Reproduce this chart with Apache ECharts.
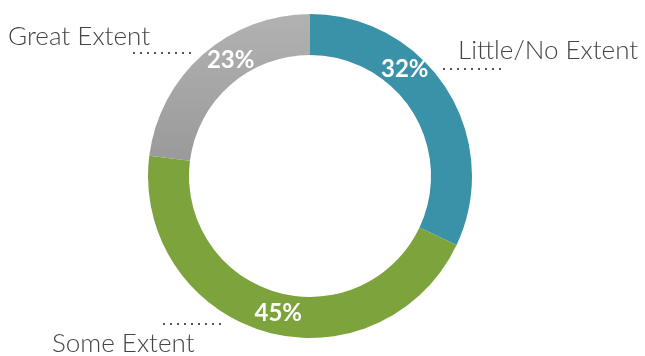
<!DOCTYPE html>
<html>
<head>
<meta charset="utf-8">
<style>
  html, body { margin: 0; padding: 0; background: #ffffff; }
  #chart { width: 645px; height: 356px; }
</style>
<script src="https://cdn.jsdelivr.net/npm/echarts@6/dist/echarts.min.js"></script>
</head>
<body>
<div id="chart"></div>
<script>
// Survey responses: extent of agreement (share of respondents, %)
const categories = ['Little/No Extent', 'Some Extent', 'Great Extent'];
const shares = [32, 45, 23];

const sliceColors = [
  '#3a92a9',
  '#7da33c',
  { type: 'linear', x: 0, y: 0, x2: 0, y2: 1,
    colorStops: [{ offset: 0, color: '#b2b2b2' }, { offset: 1, color: '#9a9a9a' }] }
];

const CX = 310, CY = 176;

// Percentage labels: polar placement (deg clockwise from 12 o'clock, radius px)
const pctSpots = [
  { angle: 41.5, r: 143 },
  { angle: 193, r: 141 },
  { angle: 325.5, r: 140 }
];

// Category name labels with their short dotted leader
const nameSpots = [
  { x: 458, y: 51, align: 'left', line: [[443, 69], [501, 69]] },
  { x: 52, y: 344, align: 'left', line: [[163, 324], [223, 324]] },
  { x: 8, y: 37, align: 'left', line: [[133, 53], [192, 53]] }
];

const data = categories.map((name, i) => ({
  name,
  value: shares[i],
  itemStyle: { color: sliceColors[i] }
}));

const chart = echarts.init(document.getElementById('chart'), null, { renderer: 'canvas' });

chart.setOption({
  animation: false,
  series: [
    {
      type: 'pie',
      center: [CX, CY],
      radius: [121, 162],
      startAngle: 90,
      clockwise: true,
      silent: true,
      data,
      itemStyle: { borderWidth: 0 },
      label: {
        show: true,
        position: 'inside',
        formatter: '{c}%',
        color: '#ffffff',
        fontFamily: 'Lato',
        fontWeight: 'bold',
        fontSize: 24
      },
      labelLine: { show: false },
      labelLayout: (p) => {
        const s = pctSpots[p.dataIndex];
        const a = s.angle * Math.PI / 180;
        return {
          x: CX + s.r * Math.sin(a),
          y: CY - s.r * Math.cos(a),
          align: 'center',
          verticalAlign: 'middle'
        };
      }
    },
    {
      type: 'pie',
      center: [CX, CY],
      radius: [121, 162],
      startAngle: 90,
      clockwise: true,
      silent: true,
      data: data.map(d => ({ name: d.name, value: d.value })),
      itemStyle: { color: 'rgba(0,0,0,0)', borderWidth: 0 },
      label: {
        show: true,
        position: 'outside',
        formatter: '{b}',
        overflow: 'none',
        color: '#444444',
        fontFamily: 'Lato',
        fontWeight: 300,
        fontSize: 26
      },
      labelLine: {
        show: true,
        lineStyle: { color: '#555555', width: 2, type: [2, 5] }
      },
      labelLayout: (p) => {
        const s = nameSpots[p.dataIndex];
        return {
          x: s.x,
          y: s.y,
          align: s.align,
          verticalAlign: 'middle',
          labelLinePoints: [s.line[0], s.line[1], s.line[1]]
        };
      }
    }
  ]
});
</script>
</body>
</html>
